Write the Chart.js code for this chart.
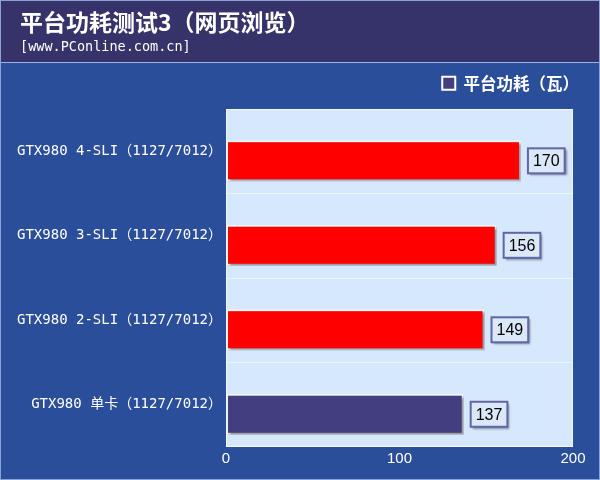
<!DOCTYPE html>
<html>
<head>
<meta charset="utf-8">
<script src="https://cdn.jsdelivr.net/npm/chart.js@4"></script>
<style>
  html, body { margin: 0; padding: 0; background: #2b4e9b; }
  #wrap { width: 600px; height: 480px; position: relative; }
</style>
</head>
<body>
<div id="wrap"><canvas id="chart"></canvas></div>
<script>
// chart data
const titleText = '平台功耗测试3（网页浏览）';
const subtitleText = '[www.PConline.com.cn]';
const seriesLabel = '平台功耗（瓦）';
const categories = [
    'GTX980 4-SLI（1127/7012）',
    'GTX980 3-SLI（1127/7012）',
    'GTX980 2-SLI（1127/7012）',
    'GTX980 单卡（1127/7012）'
];
const powerValues = [170, 156, 149, 137];
const barColors = ['#ff0000', '#ff0000', '#ff0000', '#423e80'];
const xMin = 0;
const xMax = 200;
const xStep = 100;

// bars sit a little below the middle of their row in the original
const barDrop = 9.5;

// backgrounds: header band, blue body, light plot area
const backdrop = {
    id: 'backdrop',
    beforeDraw(chart) {
        const { ctx, width, height, chartArea: a } = chart;
        ctx.save();
        ctx.fillStyle = '#2b4e9b';
        ctx.fillRect(0, 0, width, height);
        ctx.fillStyle = '#35336a';
        ctx.fillRect(0, 0, width, 62);
        ctx.fillStyle = '#9db4e2';
        ctx.fillRect(0, 62, width, 1);
        ctx.strokeStyle = '#8aa2d6';
        ctx.lineWidth = 1;
        ctx.strokeRect(0.5, 0.5, width - 1, height - 1);
        ctx.fillStyle = '#d6e8fb';
        ctx.fillRect(a.left, a.top, a.right - a.left, a.bottom - a.top);
        ctx.strokeStyle = '#eef5ff';
        ctx.strokeRect(a.left + 0.5, a.top + 0.5, a.right - a.left - 1, a.bottom - a.top - 1);
        ctx.restore();
    }
};

// move the title and subtitle in from the left edge
const titleIndent = {
    id: 'titleIndent',
    afterLayout(chart) {
        chart.boxes.forEach(box => {
            if (box !== chart.legend && box.options && box.options.align === 'start' && box.position === 'top') {
                box.left += 20;
            }
        });
    }
};

// shift bars down inside their rows
const barShift = {
    id: 'barShift',
    afterDatasetsUpdate(chart) {
        chart.getDatasetMeta(0).data.forEach(bar => { bar.y += barDrop; });
    }
};

// drop shadow under bars
const barShadow = {
    id: 'barShadow',
    beforeDatasetsDraw(chart) {
        const ctx = chart.ctx;
        ctx.save();
        ctx.shadowColor = 'rgba(40, 40, 60, 0.45)';
        ctx.shadowOffsetX = 2;
        ctx.shadowOffsetY = 2;
        ctx.shadowBlur = 2;
    },
    afterDatasetsDraw(chart) {
        chart.ctx.restore();
    }
};

// boxed value labels at the end of each bar
const valueBoxes = {
    id: 'valueBoxes',
    afterDatasetsDraw(chart) {
        const ctx = chart.ctx;
        const meta = chart.getDatasetMeta(0);
        ctx.save();
        ctx.font = '16px "Liberation Sans", Arial, sans-serif';
        ctx.textAlign = 'center';
        ctx.textBaseline = 'middle';
        meta.data.forEach((bar, i) => {
            const text = String(powerValues[i]);
            const w = ctx.measureText(text).width + 10;
            const h = 25;
            const x = bar.x + 7;
            const y = bar.y - h / 2;
            ctx.shadowColor = 'rgba(40, 40, 60, 0.5)';
            ctx.shadowOffsetX = 2;
            ctx.shadowOffsetY = 2;
            ctx.shadowBlur = 2;
            ctx.fillStyle = '#dbe8fa';
            ctx.fillRect(x, y, w, h);
            ctx.shadowColor = 'transparent';
            ctx.strokeStyle = '#6066a6';
            ctx.lineWidth = 2;
            ctx.strokeRect(x, y, w, h);
            ctx.fillStyle = '#000000';
            ctx.fillText(text, x + w / 2, bar.y + 1);
        });
        ctx.restore();
    }
};

const ctx = document.getElementById('chart');

new Chart(ctx, {
    type: 'bar',
    data: {
        labels: categories,
        datasets: [{
            label: seriesLabel,
            data: powerValues,
            backgroundColor: barColors,
            borderColor: '#f4f4f4',
            borderWidth: 2,
            borderSkipped: false,
            barPercentage: 0.485,
            categoryPercentage: 1.0
        }]
    },
    options: {
        indexAxis: 'y',
        responsive: true,
        maintainAspectRatio: false,
        animation: false,
        devicePixelRatio: 1,
        layout: {
            padding: { left: 0, right: 0, top: 0, bottom: 0 }
        },
        plugins: {
            title: {
                display: true,
                text: titleText,
                align: 'start',
                color: '#ffffff',
                font: { family: '"Noto Sans CJK SC", sans-serif', size: 23, weight: 'bold', lineHeight: 1.2 },
                padding: { top: 8, bottom: 0 }
            },
            subtitle: {
                display: true,
                text: subtitleText,
                align: 'start',
                color: '#ffffff',
                font: { family: '"DejaVu Sans Mono", monospace', size: 13.5, lineHeight: 1.0 },
                padding: { top: 5, bottom: 0 }
            },
            legend: {
                display: true,
                position: 'top',
                align: 'end',
                labels: {
                    color: '#ffffff',
                    font: { family: '"Noto Sans CJK SC", sans-serif', size: 16.5, weight: 'bold' },
                    boxWidth: 13,
                    boxHeight: 13,
                    padding: 21,
                    generateLabels: () => [{
                        text: seriesLabel,
                        fillStyle: '#423e80',
                        strokeStyle: '#ffffff',
                        lineWidth: 2,
                        fontColor: '#ffffff',
                        datasetIndex: 0
                    }]
                }
            },
            tooltip: { enabled: false }
        },
        scales: {
            x: {
                type: 'linear',
                position: 'bottom',
                min: xMin,
                max: xMax,
                ticks: {
                    stepSize: xStep,
                    color: '#ffffff',
                    padding: 3,
                    font: { family: '"Liberation Sans", Arial, sans-serif', size: 15 }
                },
                grid: { display: false, drawTicks: false },
                border: { display: false },
                afterFit: (scale) => { scale.height = 33; }
            },
            y: {
                type: 'category',
                position: 'left',
                ticks: {
                    color: '#ffffff',
                    padding: 4,
                    font: { family: '"DejaVu Sans Mono", "Noto Sans CJK SC", monospace', size: 14 }
                },
                grid: {
                    display: true,
                    offset: true,
                    drawTicks: false,
                    color: 'rgba(255, 255, 255, 0.55)',
                    lineWidth: 1
                },
                border: { display: false },
                afterFit: (scale) => { scale.width = 226; }
            },
            // spacers to place the plot area
            topGap: {
                type: 'linear',
                position: 'top',
                display: true,
                ticks: { display: false },
                grid: { display: false, drawTicks: false },
                border: { display: false },
                afterFit: (scale) => { scale.height = 7.5; }
            },
            rightGap: {
                type: 'linear',
                position: 'right',
                display: true,
                ticks: { display: false },
                grid: { display: false, drawTicks: false },
                border: { display: false },
                afterFit: (scale) => { scale.width = 27; }
            }
        }
    },
    plugins: [backdrop, titleIndent, barShift, barShadow, valueBoxes]
});
</script>
</body>
</html>
